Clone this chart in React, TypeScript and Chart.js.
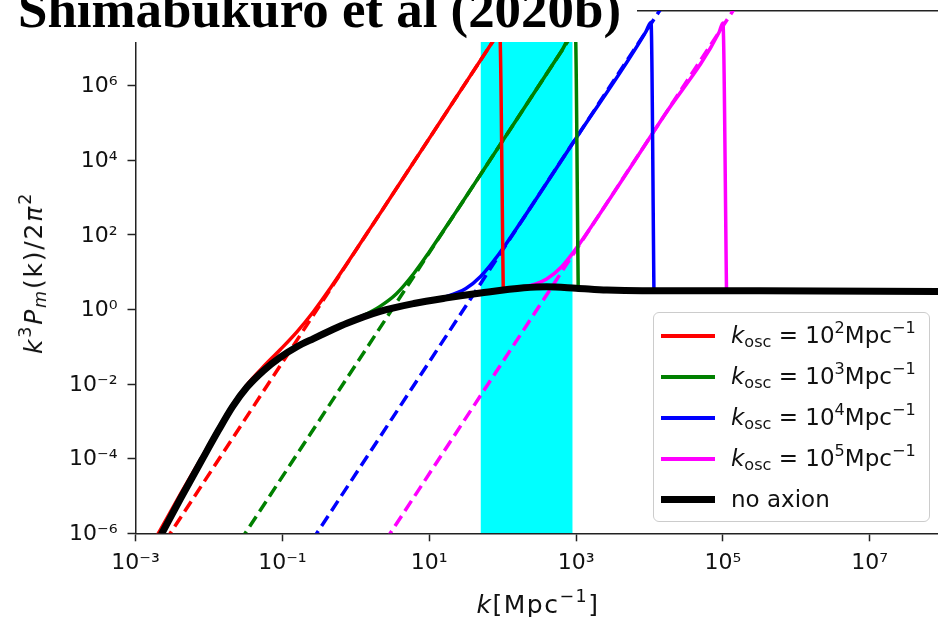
import React, { useEffect, useRef } from "react";
import { Chart, registerables } from "chart.js";

Chart.register(...registerables);

const CANVAS_W = 938;
const CANVAS_H = 617;

// ---- axis ranges and ticks ----
const kRange = [1e-3, 8.5e7];
const pRange = [1e-6, 1e8];
const xTickValues = [1e-3, 1e-1, 1e1, 1e3, 1e5, 1e7];
const xTickLabels = ["10⁻³", "10⁻¹", "10¹", "10³", "10⁵", "10⁷"];
const yTickValues = [1e-6, 1e-4, 1e-2, 1, 1e2, 1e4, 1e6];
const yTickLabels = ["10⁻⁶", "10⁻⁴", "10⁻²", "10⁰", "10²", "10⁴", "10⁶"];

// ---- no axion (black) ----
const noAxionK = [1.78e-3, 2.19e-3, 4.07e-3, 7.94e-3, 1.35e-2, 2.09e-2, 3.31e-2, 5.55e-2, 9.33e-2, 0.158, 0.266, 0.447, 0.759, 2.14, 6.17, 17.4, 50.1, 195, 398, 1000, 2630, 7940, 3.16e5, 1e8];
const noAxionP = [4.0e-7, 8.5e-7, 8.3e-6, 8.9e-5, 5.75e-4, 2.45e-3, 8.3e-3, 2.3e-2, 5.2e-2, 0.1, 0.166, 0.269, 0.427, 0.891, 1.445, 2.04, 2.75, 3.8, 4.07, 3.72, 3.31, 3.16, 3.16, 3.02];

// ---- k_osc = 1e2 (red) ----
const osc2K = [1.78e-3, 2.19e-3, 4.07e-3, 7.94e-3, 1.35e-2, 2.09e-2, 3.31e-2, 5.55e-2, 9.33e-2, 0.158, 0.266, 0.447, 0.759, 3.16, 15.8, 79.4, 91.2, 102];
const osc2P = [6.2e-7, 1.26e-6, 1.1e-5, 1.07e-4, 6.68e-4, 2.8e-3, 9.7e-3, 2.95e-2, 8.3e-2, 0.251, 0.881, 3.66, 17.0, 1.2e3, 1.51e5, 1.91e7, 2.88e7, 3.39];
// ---- k_osc = 1e3 (green) ----
const osc3K = [9.33e-2, 0.158, 0.266, 0.447, 0.759, 1.26, 2.14, 3.55, 6.17, 10, 20, 100, 631, 977, 1070];
const osc3P = [5.2e-2, 0.1, 0.166, 0.272, 0.442, 0.682, 1.21, 2.6, 9.2, 34.8, 266, 3.31e4, 8.3e6, 3.09e7, 3.63];
// ---- k_osc = 1e4 (blue) ----
const osc4K = [6.17, 17.4, 31.6, 50.1, 89.1, 195, 1000, 8910, 1.05e4, 1.15e4];
const osc4P = [1.46, 2.24, 3.65, 7.66, 30.7, 292, 3.89e4, 2.75e7, 5.01e7, 3.16];
// ---- k_osc = 1e5 (magenta) ----
const osc5K = [50.1, 195, 282, 398, 631, 1000, 2000, 1.58e4, 8.91e4, 1e5, 1.12e5];
const osc5P = [2.76, 4.09, 4.85, 6.53, 13.7, 42.7, 313, 1.55e5, 2.75e7, 4.79e7, 3.16];

// ---- dashed isocurvature power laws (end points) ----
const dash2K = [2.51e-3, 158];
const dash2P = [6.0e-7, 1.51e8];
const dash3K = [2.63e-2, 1660];
const dash3P = [6.0e-7, 1.51e8];
const dash4K = [0.251, 1.58e4];
const dash4P = [6.2e-7, 1.55e8];
const dash5K = [2.51, 1.58e5];
const dash5P = [6.2e-7, 1.55e8];

// ---- shaded band ----
const bandK = [50, 900];
const bandP = [1e8, 1e8];

const seriesExponents = ["2", "3", "4", "5"];
const seriesColors = ["#ff0000", "#008000", "#0000ff", "#ff00ff"];
const solidK = [osc2K, osc3K, osc4K, osc5K];
const solidP = [osc2P, osc3P, osc4P, osc5P];
const dashK = [dash2K, dash3K, dash4K, dash5K];
const dashP = [dash2P, dash3P, dash4P, dash5P];

const pts = (ks: number[], ps: number[]) => ks.map((k, i) => ({ x: k, y: ps[i] }));

const FONT = "'DejaVu Sans', sans-serif";
const AXIS_COLOR = "#222";
const TEXT_COLOR = "#111";
const COLOR_LW = 3.5;
const BLACK_LW = 7;

const subStyle: React.CSSProperties = { fontSize: "70%", position: "relative", top: "0.25em" };
const supStyle: React.CSSProperties = { fontSize: "70%", position: "relative", top: "-0.62em" };

export default function App() {
  const ref = useRef<HTMLCanvasElement | null>(null);

  useEffect(() => {
    const canvas = ref.current;
    if (!canvas) return;
    const datasets: any[] = [];
    datasets.push({
      label: "no axion",
      data: pts(noAxionK, noAxionP),
      borderColor: "#000000",
      borderWidth: BLACK_LW,
      cubicInterpolationMode: "monotone",
      order: 0,
    });
    seriesExponents.forEach((e, i) => {
      datasets.push({
        label: "k_osc = 10^" + e + " Mpc^-1",
        data: pts(solidK[i], solidP[i]),
        borderColor: seriesColors[i],
        borderWidth: COLOR_LW,
        cubicInterpolationMode: "monotone",
        order: 1 + i,
      });
    });
    seriesExponents.forEach((e, i) => {
      datasets.push({
        label: "isocurvature 10^" + e,
        data: pts(dashK[i], dashP[i]),
        borderColor: seriesColors[i],
        borderWidth: COLOR_LW,
        borderDash: [12, 6],
        order: 5 + i,
      });
    });
    datasets.push({
      label: "band",
      data: pts(bandK, bandP),
      borderWidth: 0,
      borderColor: "rgba(0,0,0,0)",
      backgroundColor: "#00ffff",
      fill: "start",
      order: 9,
    });
    datasets.forEach((d) => {
      d.pointRadius = 0;
      d.pointHoverRadius = 0;
      d.clip = 0;
      d.borderJoinStyle = "round";
      if (d.fill === undefined) d.fill = false;
    });

    const tickFont = { family: FONT, size: 22 };
    const gridOpts = {
      drawOnChartArea: false,
      drawTicks: true,
      tickLength: 8,
      tickColor: AXIS_COLOR,
      tickWidth: 1.5,
    };
    const borderOpts = { display: true, color: AXIS_COLOR, width: 1.5 };

    const chart = new Chart(canvas, {
      type: "line",
      data: { datasets },
      options: {
        responsive: false,
        animation: false,
        events: [],
        layout: { padding: { top: 11, left: 0, right: 0, bottom: 0 } },
        plugins: {
          legend: { display: false },
          tooltip: { enabled: false },
        },
        scales: {
          x: {
            type: "logarithmic",
            position: "bottom",
            min: kRange[0],
            max: kRange[1],
            afterBuildTicks: (s: any) => {
              s.ticks = xTickValues.map((v) => ({ value: v }));
            },
            afterFit: (s: any) => {
              s.height = 83.7;
              s.paddingLeft = 0;
              s.paddingRight = 0;
            },
            ticks: {
              callback: (_v: any, i: number) => xTickLabels[i],
              font: tickFont,
              color: TEXT_COLOR,
              padding: 9,
              maxRotation: 0,
              autoSkip: false,
            },
            grid: gridOpts,
            border: borderOpts,
          },
          xTop: {
            type: "logarithmic",
            position: "top",
            min: kRange[0],
            max: kRange[1],
            afterFit: (s: any) => {
              s.height = 0;
              s.paddingLeft = 0;
              s.paddingRight = 0;
            },
            ticks: { display: false },
            grid: { display: false, drawTicks: false },
            border: borderOpts,
          },
          y: {
            type: "logarithmic",
            position: "left",
            min: pRange[0],
            max: pRange[1],
            afterBuildTicks: (s: any) => {
              s.ticks = yTickValues.map((v) => ({ value: v }));
            },
            afterFit: (s: any) => {
              s.width = 135.5;
              s.paddingTop = 0;
              s.paddingBottom = 0;
            },
            ticks: {
              callback: (_v: any, i: number) => yTickLabels[i],
              font: tickFont,
              color: TEXT_COLOR,
              padding: 10,
              labelOffset: 1,
              autoSkip: false,
            },
            grid: gridOpts,
            border: borderOpts,
          },
        },
      } as any,
    });
    return () => chart.destroy();
  }, []);

  const legendItems = [
    ...seriesExponents.map((e, i) => ({
      color: seriesColors[i],
      width: 4,
      text: (
        <>
          <i>k</i>
          <span style={subStyle}>osc</span> = 10<span style={supStyle}>{e}</span>Mpc
          <span style={supStyle}>−1</span>
        </>
      ),
    })),
    { color: "#000000", width: BLACK_LW, text: <>no axion</> },
  ];

  return (
    <div
      style={{
        position: "fixed",
        left: 0,
        top: 0,
        width: CANVAS_W,
        height: CANVAS_H,
        overflow: "hidden",
        background: "#ffffff",
      }}
    >
      <canvas
        ref={ref}
        width={CANVAS_W}
        height={CANVAS_H}
        style={{ display: "block", width: CANVAS_W, height: CANVAS_H }}
      />
      {/* heading pasted over the top of the figure */}
      <svg
        width={637}
        height={42}
        style={{ position: "absolute", left: 0, top: 0, background: "#ffffff" }}
      >
        <text
          x={18}
          y={27}
          fontFamily="'Liberation Serif', 'Times New Roman', serif"
          fontWeight="bold"
          fontSize={52}
          textLength={603}
          lengthAdjust="spacingAndGlyphs"
          fill="#000"
        >
          Shimabukuro et al (2020b)
        </text>
      </svg>
      {/* x axis title */}
      <div
        style={{
          position: "absolute",
          left: 538,
          top: 592,
          transform: "translateX(-50%)",
          fontFamily: FONT,
          fontSize: 25,
          lineHeight: "25px",
          letterSpacing: "1.5px",
          whiteSpace: "nowrap",
          color: TEXT_COLOR,
        }}
      >
        <i>k</i>[Mpc<span style={supStyle}>−1</span>]
      </div>
      {/* y axis title */}
      <div
        style={{
          position: "absolute",
          left: 34.5,
          top: 273,
          transform: "translate(-50%, -50%) rotate(-90deg)",
          fontFamily: FONT,
          fontSize: 25,
          lineHeight: "25px",
          letterSpacing: "1.8px",
          whiteSpace: "nowrap",
          color: TEXT_COLOR,
        }}
      >
        <i>k</i>
        <span style={supStyle}>3</span>
        <i>P</i>
        <span style={{ ...subStyle, fontStyle: "italic" }}>m</span>(k)/2<i>π</i>
        <span style={supStyle}>2</span>
      </div>
      {/* legend */}
      <div
        style={{
          position: "absolute",
          left: 653,
          top: 312,
          width: 277,
          height: 210,
          boxSizing: "border-box",
          border: "1.5px solid #cccccc",
          borderRadius: 6,
          background: "rgba(255,255,255,0.8)",
          paddingTop: 2,
          fontFamily: FONT,
          fontSize: 23,
          color: TEXT_COLOR,
        }}
      >
        {legendItems.map((it, i) => (
          <div key={i} style={{ position: "relative", height: 41 }}>
            <div
              style={{
                position: "absolute",
                left: 7,
                width: 54,
                top: 20.5 - it.width / 2,
                height: it.width,
                background: it.color,
              }}
            />
            <div
              style={{
                position: "absolute",
                left: 77,
                top: 0,
                lineHeight: "41px",
                whiteSpace: "nowrap",
              }}
            >
              {it.text}
            </div>
          </div>
        ))}
      </div>
    </div>
  );
}
